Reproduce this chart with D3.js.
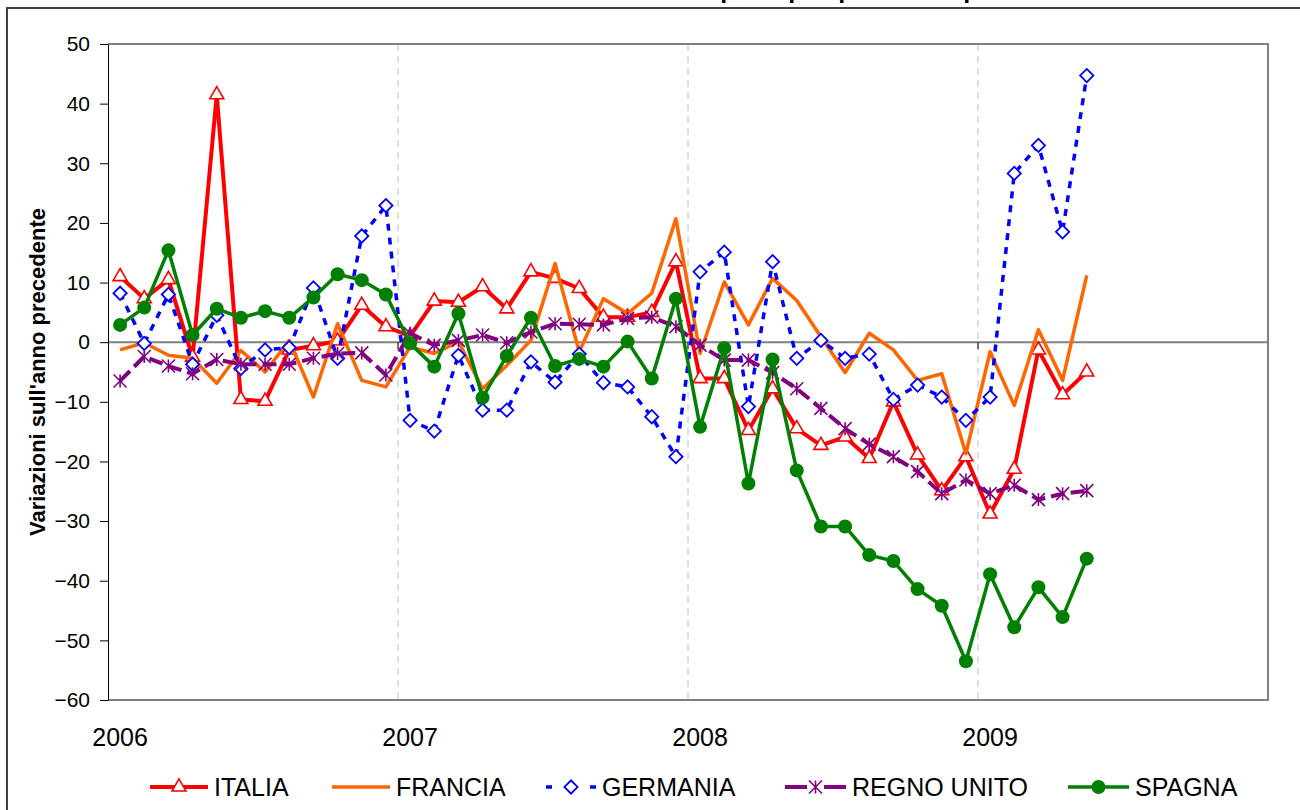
<!DOCTYPE html>
<html>
<head>
<meta charset="utf-8">
<script src="https://cdn.jsdelivr.net/npm/d3@7"></script>
<style>
  body { margin: 0; background: #fff; }
  text { font-family: Arial, "Liberation Sans", sans-serif; }
</style>
</head>
<body>
<div id="wrapper"></div>
<script>
const years = ["2006", "2007", "2008", "2009"]
const monthNames = ["01", "02", "03", "04", "05", "06", "07", "08", "09", "10", "11", "12"]
const yTicks = [-60, -50, -40, -30, -20, -10, 0, 10, 20, 30, 40, 50]

// variazioni % sull'anno precedente, gen 2006 - mag 2009
const italia = [11.0, 7.3, 10.5, -2.5, 41.5, -9.6, -9.9, -1.3, -0.6, 0.2, 6.2, 2.6,
  1.0, 6.9, 6.7, 9.3, 5.6, 11.8, 10.7, 9.0, 4.2, 4.2, 5.0, 13.5,
  -6.1, -6.1, -14.8, -7.8, -14.5, -17.3, -15.9, -19.5, -10.0, -18.9, -24.9, -19.2,
  -28.8, -21.3, -1.3, -8.8, -5.0]
const francia = [-1.3, -0.1, -2.2, -2.7, -6.9, -1.4, -5.0, 0.3, -9.2, 3.1, -6.4, -7.5,
  -0.8, -1.9, 0.1, -7.8, -3.9, 0.3, 13.2, -1.6, 7.3, 4.8, 8.2, 20.7,
  -1.9, 10.1, 2.9, 10.7, 7.0, 0.9, -5.1, 1.5, -1.3, -6.4, -5.3, -18.7,
  -1.6, -10.6, 2.1, -6.4, 11.2]
const germania = [8.2, -0.2, 8.0, -3.7, 4.5, -4.4, -1.3, -0.9, 9.1, -2.7, 17.8, 22.9,
  -13.1, -14.9, -2.2, -11.4, -11.4, -3.3, -6.7, -2.0, -6.8, -7.5, -12.5, -19.2,
  11.8, 15.1, -10.8, 13.5, -2.7, 0.3, -2.7, -2.0, -9.6, -7.2, -9.2, -13.1,
  -9.2, 28.3, 33.0, 18.5, 44.7]
const regnoUnito = [-6.5, -2.4, -4.0, -5.3, -2.9, -3.7, -3.7, -3.7, -2.7, -1.9, -1.8, -5.5,
  1.5, -0.5, 0.3, 1.2, -0.1, 1.7, 3.1, 3.0, 2.9, 4.0, 4.2, 2.6,
  -0.5, -3.0, -3.0, -5.1, -7.8, -11.1, -14.5, -17.1, -19.2, -21.7, -25.4, -23.1,
  -25.4, -24.0, -26.4, -25.4, -24.9]
const spagna = [2.9, 5.8, 15.4, 1.2, 5.6, 4.1, 5.2, 4.1, 7.5, 11.4, 10.4, 8.0,
  -0.2, -4.1, 4.8, -9.3, -2.3, 4.1, -4.0, -2.8, -4.1, 0.1, -6.1, 7.3,
  -14.2, -1.0, -23.7, -2.9, -21.5, -30.9, -30.9, -35.7, -36.7, -41.4, -44.2, -53.5,
  -38.9, -47.8, -41.1, -46.1, -36.3]

const seriesNames = ["ITALIA", "FRANCIA", "GERMANIA", "REGNO UNITO", "SPAGNA"]
const seriesValues = [italia, francia, germania, regnoUnito, spagna]

const styles = {
  "ITALIA": { color: "#ff0000", width: 4, dash: null, legendDash: null, marker: "triangle" },
  "FRANCIA": { color: "#ff6600", width: 3.5, dash: null, legendDash: null, marker: null },
  "GERMANIA": { color: "#0000ff", width: 3.5, dash: "7,7", legendDash: "6,38", marker: "diamond" },
  "REGNO UNITO": { color: "#800080", width: 4, dash: "14,6", legendDash: "22,17", marker: "star" },
  "SPAGNA": { color: "#008000", width: 3.5, dash: null, legendDash: null, marker: "circle" }
}

const months = years.flatMap(y => monthNames.map(m => `${y}-${m}`))

const dimensions = {
  width: 1300,
  height: 810,
  margin: { top: 44, right: 32, bottom: 110, left: 108 }
}
dimensions.boundedWidth = dimensions.width - dimensions.margin.left - dimensions.margin.right
dimensions.boundedHeight = dimensions.height - dimensions.margin.top - dimensions.margin.bottom

const xScale = d3.scaleBand()
  .domain(months)
  .range([0, dimensions.boundedWidth])
const xPos = m => xScale(m) + xScale.bandwidth() / 2

const yScale = d3.scaleLinear()
  .domain([-60, 50])
  .range([dimensions.boundedHeight, 0])

const wrapper = d3.select("#wrapper")
  .append("svg")
    .attr("width", dimensions.width)
    .attr("height", dimensions.height)

// outer chart frame (extends past the picture)
wrapper.append("rect")
  .attr("x", 7)
  .attr("y", 8)
  .attr("width", 1400)
  .attr("height", 900)
  .attr("fill", "none")
  .attr("stroke", "#404040")
  .attr("stroke-width", 2)

// title, mostly cut off at the top like in the source
wrapper.append("text")
  .attr("x", 650)
  .attr("y", -2)
  .attr("text-anchor", "middle")
  .style("font-size", "25px")
  .style("font-weight", "bold")
  .text("Immatricolazioni di autovetture nei principali paesi europei")

const bounds = wrapper.append("g")
  .attr("transform", `translate(${dimensions.margin.left},${dimensions.margin.top})`)

// year separators
const januaries = years.slice(1).map(y => `${y}-01`)
bounds.selectAll(".year-line")
  .data(januaries)
  .enter().append("line")
    .attr("x1", d => xScale(d))
    .attr("x2", d => xScale(d))
    .attr("y1", 0)
    .attr("y2", dimensions.boundedHeight)
    .attr("stroke", "#c0c0c0")
    .attr("stroke-width", 1)
    .attr("stroke-dasharray", "7,5")

// plot frame
bounds.append("path")
  .attr("d", `M0,0H${dimensions.boundedWidth}V${dimensions.boundedHeight}H0`)
  .attr("fill", "none")
  .attr("stroke", "#808080")
  .attr("stroke-width", 2)

// zero line with year ticks
bounds.append("line")
  .attr("x1", 0)
  .attr("x2", dimensions.boundedWidth)
  .attr("y1", yScale(0))
  .attr("y2", yScale(0))
  .attr("stroke", "#808080")
  .attr("stroke-width", 2)

bounds.selectAll(".zero-tick")
  .data(januaries)
  .enter().append("line")
    .attr("x1", d => xScale(d))
    .attr("x2", d => xScale(d))
    .attr("y1", yScale(0))
    .attr("y2", yScale(0) + 7)
    .attr("stroke", "#000")
    .attr("stroke-width", 1)

// y axis
const yAxis = d3.axisLeft(yScale)
  .tickValues(yTicks)
  .tickSize(8)
  .tickPadding(10)
  .tickSizeOuter(0)

const yAxisGroup = bounds.append("g").call(yAxis)
yAxisGroup.select(".domain").attr("stroke", "#000")
yAxisGroup.selectAll("text")
  .style("font-size", "21px")
  .style("font-family", "Arial, 'Liberation Sans', sans-serif")
  .attr("fill", "#000")

wrapper.append("text")
  .attr("transform", "translate(45, 372) rotate(-90)")
  .attr("text-anchor", "middle")
  .style("font-size", "22px")
  .style("font-weight", "bold")
  .text("Variazioni sull'anno precedente")

// year labels
bounds.selectAll(".year-label")
  .data(years)
  .enter().append("text")
    .attr("x", d => xPos(`${d}-01`))
    .attr("y", dimensions.boundedHeight + 46)
    .attr("text-anchor", "middle")
    .style("font-size", "25px")
    .text(d => d)

// markers
const starPath = r => `M${-r},${-r}L${r},${r}M${-r},${r}L${r},${-r}M0,${-r}L0,${r}`

function drawMarker(sel, kind, color) {
  if (kind === "triangle") {
    sel.append("path")
      .attr("d", d3.symbol(d3.symbolTriangle, 85)())
      .attr("fill", "#fff")
      .attr("stroke", color)
      .attr("stroke-width", 1.6)
  } else if (kind === "diamond") {
    sel.append("path")
      .attr("d", d3.symbol(d3.symbolSquare, 88)())
      .attr("transform", "rotate(45)")
      .attr("fill", "#fff")
      .attr("stroke", color)
      .attr("stroke-width", 1.8)
  } else if (kind === "star") {
    sel.append("path")
      .attr("d", starPath(6.5))
      .attr("fill", "none")
      .attr("stroke", color)
      .attr("stroke-width", 1.6)
  } else if (kind === "circle") {
    sel.append("circle")
      .attr("r", 7)
      .attr("fill", color)
  }
}

const lineGen = d3.line()
  .x(d => xPos(d.month))
  .y(d => yScale(d.value))

seriesNames.forEach((name, si) => {
  const st = styles[name]
  const points = seriesValues[si].map((v, i) => ({ month: months[i], value: v }))

  bounds.append("path")
    .datum(points)
    .attr("d", lineGen)
    .attr("fill", "none")
    .attr("stroke", st.color)
    .attr("stroke-width", st.width)
    .attr("stroke-linejoin", "round")
    .attr("stroke-dasharray", st.dash)

  if (st.marker) {
    bounds.selectAll(`.m${si}`)
      .data(points)
      .enter().append("g")
        .attr("class", `m${si}`)
        .attr("transform", d => `translate(${xPos(d.month)},${yScale(d.value)})`)
        .each(function() { drawMarker(d3.select(this), st.marker, st.color) })
  }
})

// legend
const legendX = [150, 332, 546, 785, 1068]
const legendLen = [58, 58, 50, 61, 61]
const legendY = 787

const legend = wrapper.append("g")
seriesNames.forEach((name, i) => {
  const st = styles[name]
  const g = legend.append("g").attr("transform", `translate(${legendX[i]},${legendY})`)
  g.append("line")
    .attr("x1", 0)
    .attr("x2", legendLen[i])
    .attr("stroke", st.color)
    .attr("stroke-width", st.width)
    .attr("stroke-dasharray", st.legendDash)
  if (st.marker) {
    const mg = g.append("g").attr("transform", `translate(${legendLen[i] / 2},0)`)
    drawMarker(mg, st.marker, st.color)
  }
  g.append("text")
    .attr("x", legendLen[i] + 6)
    .attr("y", 9)
    .style("font-size", "25px")
    .text(name)
})
</script>
</body>
</html>
